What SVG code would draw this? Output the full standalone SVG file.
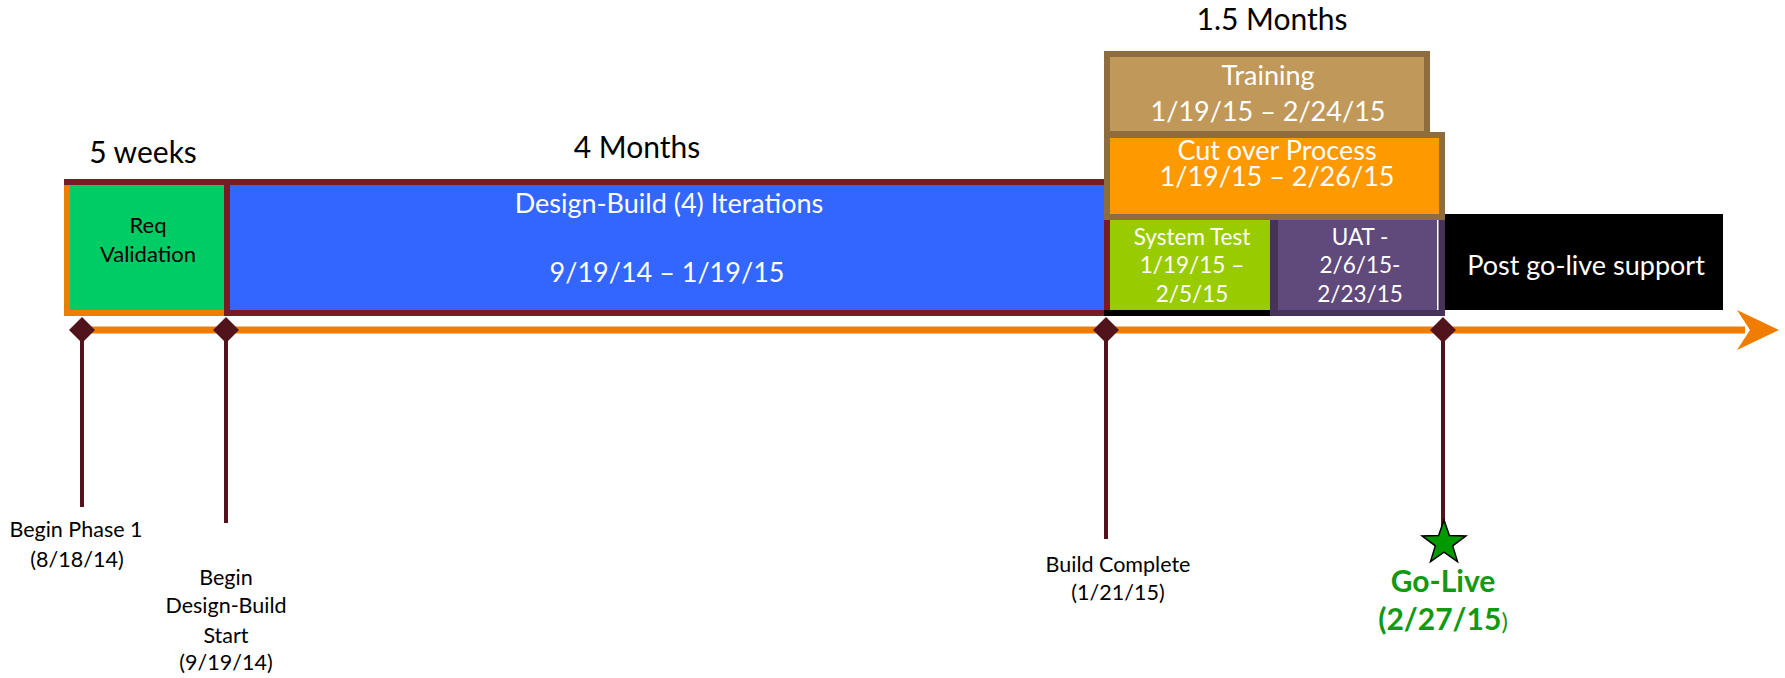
<svg xmlns="http://www.w3.org/2000/svg" width="1785" height="678" viewBox="0 0 1785 678">
<style>
text{font-family:Lato,"Open Sans","Liberation Sans",sans-serif;text-anchor:middle}
.hdr{font-size:30px;fill:#000}
.wt{fill:#fff;font-size:27px}
.ws{fill:#fff;font-size:22.5px}
.lbl{font-size:21.5px;fill:#000}
.go{font-size:30px;font-weight:bold;fill:#119911}
.stem{stroke:#52141C;stroke-width:4;fill:none}
.dia{fill:#52141C}
</style>
<rect width="1785" height="678" fill="#fff"/>

<g id="connectors">
  <line x1="82" y1="330" x2="1745" y2="330" stroke="#F07D00" stroke-width="7"/>
  <polygon points="1779,330 1737,310 1750,330 1737,350" fill="#F07D00"/>
  <line class="stem" x1="82" y1="330" x2="82" y2="507"/>
  <line class="stem" x1="226" y1="330" x2="226" y2="523"/>
  <line class="stem" x1="1106" y1="330" x2="1106" y2="539"/>
  <line class="stem" x1="1443" y1="330" x2="1443" y2="528"/>
</g>

<g id="milestone-begin-phase1">
  <polygon class="dia" points="82,317 95,330 82,343 69,330"/>
  <text class="lbl" x="76" y="537">Begin Phase 1</text>
  <text class="lbl" x="77" y="567">(8/18/14)</text>
</g>
<g id="milestone-begin-design-build">
  <polygon class="dia" points="226,317 239,330 226,343 213,330"/>
  <text class="lbl" x="226" y="585">Begin</text>
  <text class="lbl" x="226" y="613">Design-Build</text>
  <text class="lbl" x="226" y="643">Start</text>
  <text class="lbl" x="226" y="670">(9/19/14)</text>
</g>
<g id="milestone-build-complete">
  <polygon class="dia" points="1106,317 1119,330 1106,343 1093,330"/>
  <text class="lbl" x="1118" y="572">Build Complete</text>
  <text class="lbl" x="1118" y="600">(1/21/15)</text>
</g>
<g id="milestone-go-live">
  <polygon class="dia" points="1443,317 1456,330 1443,343 1430,330"/>
  <polygon points="1444,520 1449.4,535.6 1465.9,535.9 1452.7,545.9 1457.5,561.6 1444,552.2 1430.5,561.6 1435.3,545.9 1422.1,535.9 1438.6,535.6" fill="#009900" stroke="#000" stroke-width="1.5"/>
  <text class="go" x="1443" y="592">Go-Live</text>
  <text class="go" x="1443" y="630">(2/27/15<tspan font-weight="normal" font-size="24">)</tspan></text>
</g>

<g id="req-validation">
  <rect x="67" y="182" width="160" height="131" fill="#00CC66" stroke="#F07D00" stroke-width="6"/>
  <rect x="64" y="179" width="166" height="6" fill="#7A1B24"/>
  <text class="hdr" x="143" y="163">5 weeks</text>
  <text x="148" y="233" font-size="22">Req</text>
  <text x="148" y="262" font-size="22">Validation</text>
</g>

<g id="design-build">
  <rect x="227" y="182" width="880" height="131" fill="#3366FF" stroke="#7A1B24" stroke-width="6"/>
  <text class="hdr" x="637" y="158" font-size="29.5">4 Months</text>
  <text class="wt" x="669" y="213">Design-Build (4) Iterations</text>
  <text class="wt" x="667" y="282" font-size="26">9/19/14 – 1/19/15</text>
</g>

<g id="training">
  <rect x="1107" y="54" width="320" height="80" fill="#C0985A" stroke="#8F6C3E" stroke-width="6"/>
  <text class="hdr" x="1272" y="30" font-size="31">1.5 Months</text>
  <text class="wt" x="1268" y="85">Training</text>
  <text class="wt" x="1268" y="121">1/19/15 – 2/24/15</text>
</g>

<g id="cut-over">
  <rect x="1107" y="135" width="335" height="82" fill="#FF9900" stroke="#8F6C3E" stroke-width="6"/>
  <text class="wt" x="1277" y="160">Cut over Process</text>
  <text class="wt" x="1277" y="186">1/19/15 – 2/26/15</text>
</g>

<g id="system-test">
  <rect x="1110" y="220" width="160" height="90" fill="#99CC00"/>
  <rect x="1104" y="310" width="166" height="6" fill="#000"/>
  <text class="ws" x="1192" y="245">System Test</text>
  <text class="ws" x="1192" y="273">1/19/15 –</text>
  <text class="ws" x="1192" y="302">2/5/15</text>
</g>

<g id="uat">
  <rect x="1270" y="220" width="175" height="96" fill="#47325A"/>
  <rect x="1278" y="220" width="160" height="90" fill="#5F4A7B"/>
  <rect x="1437" y="220" width="1.5" height="90" fill="#fff"/>
  <text class="ws" x="1360" y="245">UAT -</text>
  <text class="ws" x="1360" y="273">2/6/15-</text>
  <text class="ws" x="1360" y="302">2/23/15</text>
</g>

<g id="post-go-live">
  <rect x="1445" y="214" width="278" height="96" fill="#000"/>
  <text class="wt" x="1586" y="275">Post go-live support</text>
</g>
</svg>
